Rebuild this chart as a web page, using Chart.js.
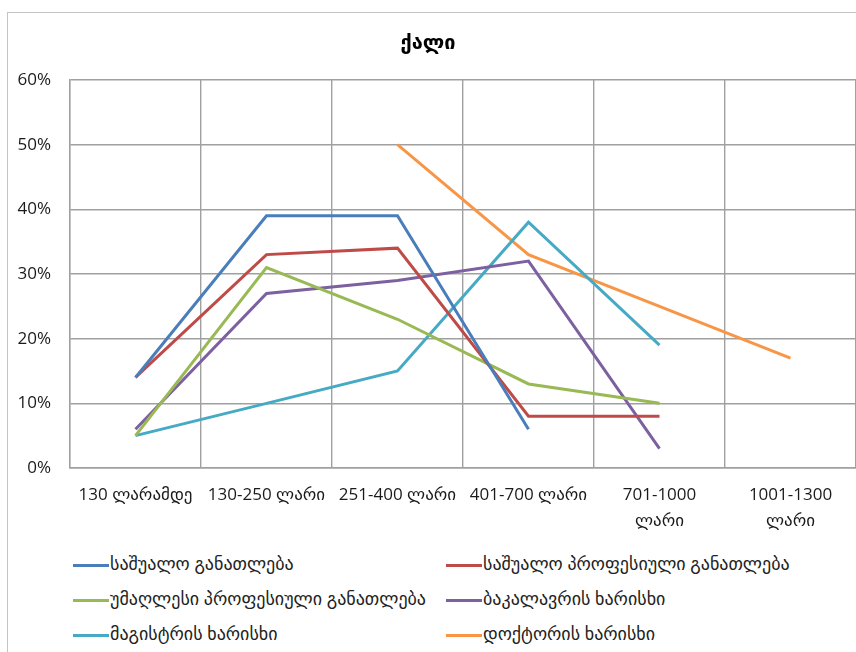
<!DOCTYPE html>
<html>
<head>
<meta charset="utf-8">
<script src="https://cdn.jsdelivr.net/npm/chart.js@4.4.0/dist/chart.umd.min.js"></script>
<style>
  body { margin: 0; background: #fff; font-family: 'Open Sans', 'DejaVu Sans', sans-serif; overflow: hidden; }
  #frame { position: absolute; left: 7px; top: 12px; width: 870px; height: 680px; border: 1px solid #c4c4c4; }
  #wrap { position: absolute; left: 0; top: 0; width: 874px; height: 541px; }
  #legend { position: absolute; left: 0; top: 546px; width: 856px; }
  .item { position: absolute; font-size: 18px; color: #222; white-space: nowrap; line-height: 22px; }
  .item span.sw { display: inline-block; width: 36px; height: 3px; vertical-align: middle; margin-right: 1px; }
</style>
</head>
<body>
<div id="frame"></div>
<div id="wrap"><canvas id="chartQali"></canvas></div>
<div id="legend"></div>
<script>
var categories = ['130 ლარამდე', '130-250 ლარი', '251-400 ლარი', '401-700 ლარი', ['701-1000', 'ლარი'], ['1001-1300', 'ლარი']];
var seriesNames = ['საშუალო განათლება', 'საშუალო პროფესიული განათლება', 'უმაღლესი პროფესიული განათლება', 'ბაკალავრის ხარისხი', 'მაგისტრის ხარისხი', 'დოქტორის ხარისხი'];
var saSHualo = [14, 39, 39, 6, null, null];
var saSHualoProf = [14, 33, 34, 8, 8, null];
var umaghlesiProf = [5, 31, 23, 13, 10, null];
var bakalavri = [6, 27, 29, 32, 3, null];
var magistri = [5, 10, 15, 38, 19, null];
var doktori = [null, null, 50, 33, 25, 17];
var yTicks = [0, 10, 20, 30, 40, 50, 60];
var colors = ['#4A7EBB', '#BE4B48', '#98B954', '#7D60A0', '#46AAC5', '#F79646'];

var allSeries = [saSHualo, saSHualoProf, umaghlesiProf, bakalavri, magistri, doktori];
var datasets = allSeries.map(function (d, i) {
  return {
    label: seriesNames[i],
    data: d,
    borderColor: colors[i],
    backgroundColor: colors[i],
    borderWidth: 3,
    pointRadius: 0,
    tension: 0,
    spanGaps: false
  };
});

var tickFont = { family: "'Open Sans', 'DejaVu Sans'", size: 17 };

var ctx = document.getElementById('chartQali');
new Chart(ctx, {
  type: 'line',
  data: { labels: categories, datasets: datasets },
  options: {
    responsive: true,
    maintainAspectRatio: false,
    animation: false,
    layout: { padding: { left: 0, right: 18, top: 0, bottom: 0 } },
    scales: {
      x: {
        offset: true,
        grid: { offset: true, color: '#a0a0a0', lineWidth: 1.4, drawTicks: false },
        border: { color: '#a0a0a0', width: 1.4 },
        ticks: { color: '#1a1a1a', font: { family: tickFont.family, size: 17, lineHeight: 1.55 }, padding: 14, maxRotation: 0, autoSkip: false },
        afterFit: function (scale) { scale.height = 73; }
      },
      y: {
        min: 0,
        max: 60,
        afterBuildTicks: function (scale) { scale.ticks = yTicks.map(function (v) { return { value: v }; }); },
        grid: { color: '#a0a0a0', lineWidth: 1.4, drawTicks: false },
        border: { color: '#a0a0a0', width: 1.4 },
        ticks: {
          color: '#1a1a1a',
          font: tickFont,
          padding: 19,
          callback: function (v) { return v + '%'; }
        },
        afterFit: function (scale) { scale.width = 70; }
      }
    },
    plugins: {
      legend: { display: false },
      tooltip: { enabled: false },
      title: {
        display: true,
        text: 'ქალი',
        color: '#000',
        font: { family: "'DejaVu Sans'", size: 20, weight: 'bold' },
        padding: { top: 32, bottom: 24 }
      }
    }
  }
});

// legend in two columns, built from the series names
var legendEl = document.getElementById('legend');
var colX = [73, 446];
var rowY = [6, 41, 76];
seriesNames.forEach(function (name, i) {
  var div = document.createElement('div');
  div.className = 'item';
  div.style.left = colX[i % 2] + 'px';
  div.style.top = rowY[Math.floor(i / 2)] + 'px';
  div.innerHTML = '<span class="sw" style="background:' + colors[i] + '"></span>' + name;
  legendEl.appendChild(div);
});
</script>
</body>
</html>
